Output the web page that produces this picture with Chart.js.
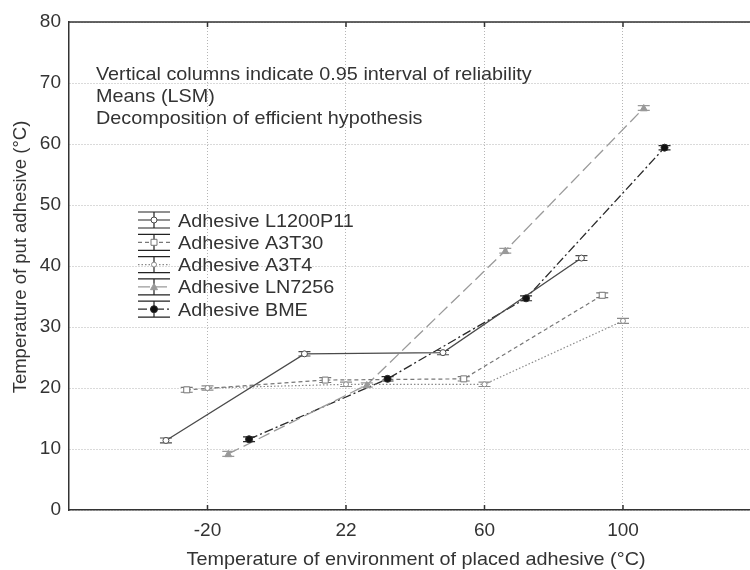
<!DOCTYPE html>
<html>
<head>
<meta charset="utf-8">
<script src="https://cdn.jsdelivr.net/npm/chart.js@4/dist/chart.umd.min.js"></script>
<style>
  html, body { margin: 0; padding: 0; background: #fff; overflow: hidden; }
  #wrap { width: 750px; height: 570px; }
</style>
</head>
<body>
<div id="wrap"><canvas id="chart"></canvas></div>
<script>
// categories on the x axis
const CATEGORIES = ["-20", "22", "60", "100"];

// means (LSM) per adhesive
const L1200P11 = [11.4, 25.6, 25.8, 41.3];
const A3T30 = [19.7, 21.3, 21.5, 35.2];
const A3T4 = [20.0, 20.6, 20.6, 31.0];
const LN7256 = [9.2, 20.5, 42.5, 65.9];
const BME = [11.6, 21.5, 34.7, 59.4];

// half width of 0.95 interval
const L1200P11_ERR = [0.4, 0.35, 0.35, 0.4];
const A3T30_ERR = [0.4, 0.4, 0.35, 0.4];
const A3T4_ERR = [0.35, 0.35, 0.35, 0.4];
const LN7256_ERR = [0.4, 0.35, 0.4, 0.4];
const BME_ERR = [0.4, 0.35, 0.4, 0.35];

const NOTES = [
    "Vertical columns indicate 0.95 interval of reliability",
    "Means (LSM)",
    "Decomposition of efficient hypothesis",
];
const X_TITLE = "Temperature of environment of placed adhesive (°C)";
const Y_TITLE = "Temperature of put adhesive (°C)";

const FONT = "'Liberation Sans', Arial, sans-serif";
const TEXT = "#333";
const STRETCH = 1.07;   // the original is a bit wider than tall

const SERIES = [
    {label: "Adhesive L1200P11", data: L1200P11, err: L1200P11_ERR, shift: -0.3,
        color: "#4a4a4a", dash: [], style: "circle", radius: 3, fill: "#fff", width: 1.3},
    {label: "Adhesive A3T30", data: A3T30, err: A3T30_ERR, shift: -0.15,
        color: "#777", dash: [4, 3], style: "rect", radius: 3, fill: "#fff", width: 1.2},
    {label: "Adhesive A3T4", data: A3T4, err: A3T4_ERR, shift: 0,
        color: "#8a8a8a", dash: [1.5, 2], style: "circle", radius: 2.5, fill: "#fff", width: 1.2},
    {label: "Adhesive LN7256", data: LN7256, err: LN7256_ERR, shift: 0.15,
        color: "#9a9a9a", dash: [12, 5], style: "triangle", radius: 3.5, fill: "#999", width: 1.3},
    {label: "Adhesive BME", data: BME, err: BME_ERR, shift: 0.3,
        color: "#2a2a2a", dash: [9, 3, 2, 3], style: "circle", radius: 3.5, fill: "#111", width: 1.3},
];

function drawMarker(ctx, s, x, y) {
    ctx.save();
    ctx.setLineDash([]);
    ctx.lineWidth = 1;
    ctx.strokeStyle = s.color;
    ctx.fillStyle = s.fill;
    ctx.beginPath();
    if (s.style === "rect") {
        ctx.rect(x - s.radius, y - s.radius, s.radius * 2, s.radius * 2);
    } else if (s.style === "triangle") {
        ctx.moveTo(x, y - s.radius);
        ctx.lineTo(x + s.radius, y + s.radius * 0.8);
        ctx.lineTo(x - s.radius, y + s.radius * 0.8);
        ctx.closePath();
    } else {
        ctx.arc(x, y, s.radius, 0, Math.PI * 2);
    }
    ctx.fill();
    ctx.stroke();
    ctx.restore();
}

function stretchedText(ctx, text, x, y, align) {
    ctx.save();
    ctx.translate(x, y);
    ctx.scale(STRETCH, 1);
    ctx.textAlign = align || "left";
    ctx.fillText(text, 0, 0);
    ctx.restore();
}

const errorBars = {
    id: "errorBars",
    afterDatasetsDraw(chart) {
        const ctx = chart.ctx;
        const y = chart.scales.y;
        SERIES.forEach(function (s, di) {
            const meta = chart.getDatasetMeta(di);
            meta.data.forEach(function (pt, i) {
                const top = y.getPixelForValue(s.data[i] + s.err[i]);
                const bot = y.getPixelForValue(s.data[i] - s.err[i]);
                ctx.save();
                ctx.strokeStyle = s.color;
                ctx.lineWidth = 1.2;
                ctx.beginPath();
                ctx.moveTo(pt.x, top); ctx.lineTo(pt.x, bot);
                ctx.moveTo(pt.x - 6, top); ctx.lineTo(pt.x + 6, top);
                ctx.moveTo(pt.x - 6, bot); ctx.lineTo(pt.x + 6, bot);
                ctx.stroke();
                ctx.restore();
                drawMarker(ctx, s, pt.x, pt.y);
            });
        });
    }
};

const frame = {
    id: "frame",
    afterDraw(chart) {
        const ctx = chart.ctx;
        const a = chart.chartArea;
        const x = chart.scales.x;
        ctx.save();
        ctx.strokeStyle = "#333";
        ctx.lineWidth = 1.5;
        ctx.beginPath();
        ctx.moveTo(a.left, a.top); ctx.lineTo(a.right, a.top);
        CATEGORIES.forEach(function (c, i) {
            const px = x.getPixelForValue(i);
            ctx.moveTo(px, a.top); ctx.lineTo(px, a.top + 5);
            ctx.moveTo(px, a.bottom); ctx.lineTo(px, a.bottom - 5);
        });
        ctx.stroke();

        ctx.font = "18.5px " + FONT;
        ctx.fillStyle = TEXT;
        ctx.textBaseline = "alphabetic";
        NOTES.forEach(function (t, i) {
            stretchedText(ctx, t, 96, 80 + i * 22);
        });
        stretchedText(ctx, X_TITLE, 416, 565, "center");

        ctx.save();
        ctx.translate(26, 257);
        ctx.rotate(-Math.PI / 2);
        ctx.textAlign = "center";
        ctx.fillText(Y_TITLE, 0, 0);
        ctx.restore();

        SERIES.forEach(function (s, i) {
            const cy = 220 + i * 22.3;
            ctx.strokeStyle = "#222";
            ctx.lineWidth = 1.2;
            ctx.setLineDash([]);
            ctx.beginPath();
            ctx.moveTo(154, cy - 8); ctx.lineTo(154, cy + 8);
            ctx.moveTo(138, cy - 8); ctx.lineTo(170, cy - 8);
            ctx.moveTo(138, cy + 8); ctx.lineTo(170, cy + 8);
            ctx.stroke();
            ctx.strokeStyle = s.color;
            ctx.setLineDash(s.dash);
            ctx.beginPath();
            ctx.moveTo(138, cy); ctx.lineTo(170, cy);
            ctx.stroke();
            drawMarker(ctx, s, 154, cy);
            ctx.fillStyle = TEXT;
            stretchedText(ctx, s.label, 178, cy + 6.5);
        });
        ctx.restore();
    }
};

const datasets = SERIES.map(function (s) {
    return {
        label: s.label,
        data: s.data.map(function (v, i) { return {x: i + s.shift, y: v}; }),
        borderColor: s.color,
        borderWidth: s.width,
        borderDash: s.dash,
        pointRadius: 0,
        tension: 0,
        fill: false,
    };
});

new Chart(document.getElementById("chart"), {
    type: "line",
    data: {datasets: datasets},
    plugins: [errorBars, frame],
    options: {
        animation: false,
        responsive: true,
        maintainAspectRatio: false,
        layout: {padding: {top: 22, right: 0, left: 0, bottom: 0}},
        plugins: {legend: {display: false}, tooltip: {enabled: false}},
        scales: {
            x: {
                type: "linear",
                min: -1,
                max: 3.917,
                afterBuildTicks: function (scale) {
                    scale.ticks = CATEGORIES.map(function (c, i) { return {value: i}; });
                },
                afterFit: function (scale) { scale.height = 60; },
                ticks: {
                    callback: function (v) { return CATEGORIES[v]; },
                    color: TEXT,
                    font: {family: FONT, size: 19},
                    padding: 9,
                    maxRotation: 0,
                },
                grid: {color: "#b5b5b5", lineWidth: 1, tickLength: 0},
                border: {display: true, color: "#333", width: 1.5, dash: [1, 2]},
            },
            y: {
                min: 0,
                max: 80,
                afterFit: function (scale) { scale.width = 69; },
                ticks: {
                    stepSize: 10,
                    color: TEXT,
                    font: {family: FONT, size: 19},
                    padding: 8,
                },
                grid: {color: "#b5b5b5", lineWidth: 1, tickLength: 0},
                border: {display: true, color: "#333", width: 1.5, dash: [1, 2]},
            },
        },
    },
});
</script>
</body>
</html>
